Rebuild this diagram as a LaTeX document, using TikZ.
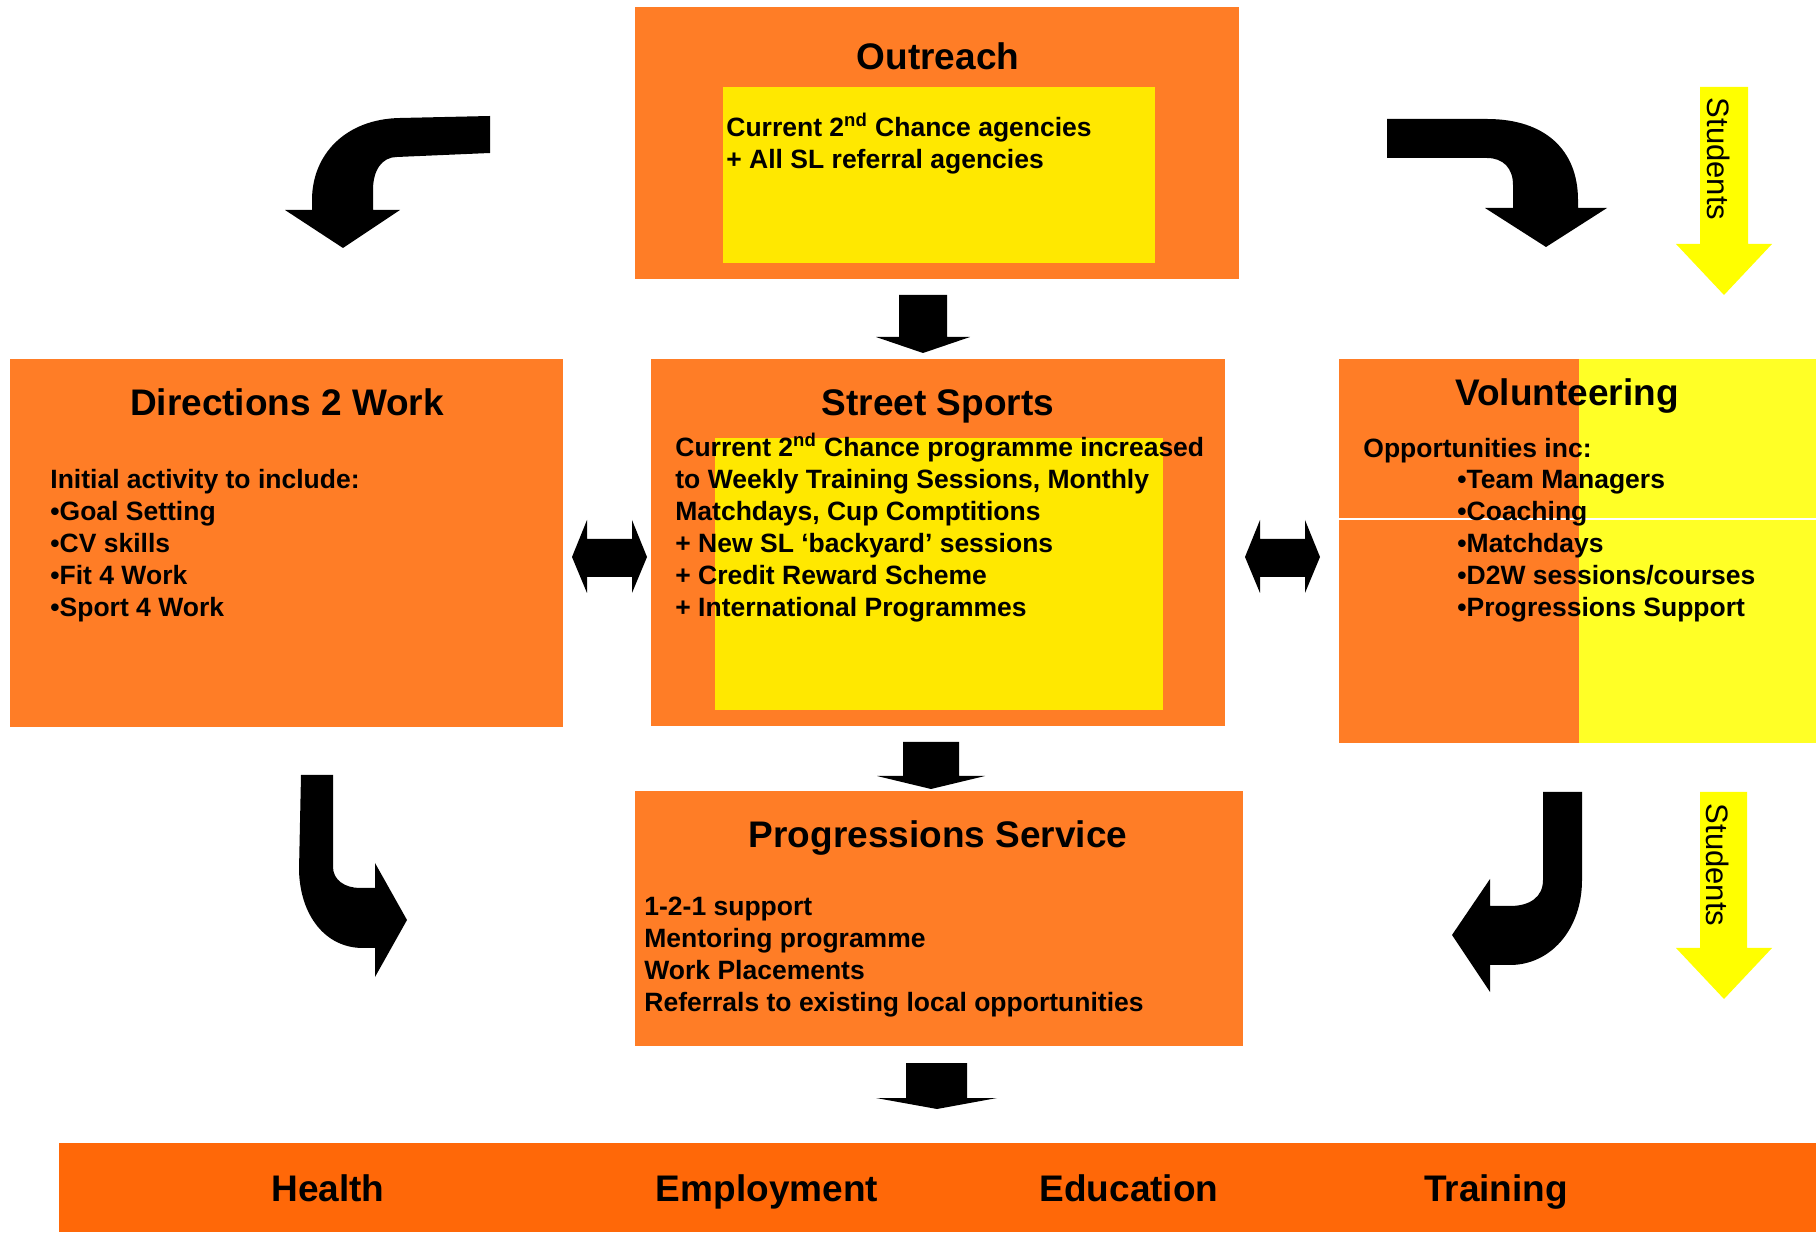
\documentclass[tikz,border=0pt]{standalone}
\usepackage{fontspec}
\setmainfont{Liberation Sans}
\usetikzlibrary{fit}
\definecolor{boxorange}{RGB}{255,125,38}
\definecolor{baryellow}{RGB}{255,232,0}
\definecolor{volyellow}{RGB}{255,255,38}
\definecolor{studyellow}{RGB}{255,255,0}
\definecolor{barorange}{RGB}{255,104,8}
\tikzset{
  box/.style={fill=boxorange, inner sep=0pt, outer sep=0pt},
  inbox/.style={fill=baryellow, inner sep=0pt, outer sep=0pt},
  titletext/.style={font=\fontsize{18.5}{22}\selectfont\bfseries, anchor=base, inner sep=0pt},
  bodytext/.style={font=\fontsize{13.25}{16}\selectfont\bfseries, align=left, anchor=base west, inner sep=0pt},
  studtext/.style={font=\fontsize{15.5}{18}\selectfont, rotate=-90, inner sep=0pt},
}
\begin{document}
\begin{tikzpicture}[x=0.5pt,y=-0.5pt]
		\useasboundingbox (0,0) rectangle (1816,1234);
		
		% boxes
		\node[box, fit={(635,7) (1239,279)}] (outreach) {};
		\node[inbox, fit={(723,87) (1155,263)}] (outreachin) {};
		\node[box, fit={(651,359) (1225,726)}] (street) {};
		\node[inbox, fit={(715,438) (1163,710)}] (streetin) {};
		\node[box, fit={(10,359) (563,727)}] (d2w) {};
		\node[box, fit={(1339,359) (1816,743)}] (vol) {};
		\node[fill=volyellow, inner sep=0pt, fit={(1579,359) (1816,743)}] (volin) {};
		\draw[white, line width=0.6pt] (vol.west |- 0,519) -- (vol.east |- 0,519);
		\node[box, fit={(635,791) (1243,1046)}] (prog) {};
		\node[fill=barorange, inner sep=0pt, fit={(59,1143) (1816,1232)}] (bar) {};
		
		% block arrows
		\fill (899,295) -- (947,295) -- (947,337) -- (970,337) -- (923,353) -- (876,337) -- (899,337) -- cycle;
		\fill (903,742) -- (959,742) -- (959,776) -- (985,776) -- (931,789) -- (877,776) -- (903,776) -- cycle;
		\fill (906,1063) -- (967,1063) -- (967,1098) -- (997,1098) -- (937,1109) -- (876,1098) -- (906,1098) -- cycle;
		
		% double arrows
		\fill (572,557) -- (587,520) -- (587,539) -- (632,539) -- (632,520) -- (647,557) -- (632,593) -- (632,577) -- (587,577) -- (587,593) -- cycle;
		\fill (1245,557) -- (1260,520) -- (1260,539) -- (1305,539) -- (1305,520) -- (1320,557) -- (1305,593) -- (1305,577) -- (1260,577) -- (1260,593) -- cycle;
		
		% curved arrows
		\fill (490,116) -- (400,118) .. controls (345,119) and (312,155) .. (312,200) -- (312,210) -- (285,210) -- (343,248) -- (400,210) -- (373,210) -- (373,190) .. controls (373,170) and (382,157) .. (397,157) -- (490,153) -- cycle;
		\fill (1387,119) -- (1487,119) .. controls (1545,119) and (1578,150) .. (1578,200) -- (1578,208) -- (1607,208) -- (1546,247) -- (1485,208) -- (1513,208) -- (1513,185) .. controls (1513,168) and (1503,158) .. (1487,158) -- (1387,158) -- cycle;
		\fill (301,775) -- (333,775) -- (333,867) .. controls (333,880) and (345,888) .. (360,888) -- (375,888) -- (375,863) -- (407,920) -- (375,977) -- (375,948) -- (363,948) .. controls (325,948) and (300,915) .. (299,870) -- cycle;
		\fill (1543,792) -- (1582,792) -- (1582,880) .. controls (1582,930) and (1550,965) .. (1510,965) -- (1490,965) -- (1490,992) -- (1452,935) -- (1490,879) -- (1490,906) -- (1510,906) .. controls (1530,906) and (1543,897) .. (1543,880) -- cycle;
		
		% students arrows
		\fill[studyellow] (1700,87) -- (1748,87) -- (1748,244) -- (1772,244) -- (1724,295) -- (1676,244) -- (1700,244) -- cycle;
		\fill[studyellow] (1700,792) -- (1747,792) -- (1747,948) -- (1772,948) -- (1724,999) -- (1676,948) -- (1700,948) -- cycle;
		\node[studtext] (stud1) at (1719,159) {Students};
		\node[studtext] (stud2) at (1718,865) {Students};
		
		% titles
		\node[titletext] (outreachtitle) at (938,70) {Outreach};
		\node[titletext] (streettitle) at (938,416) {Street Sports};
		\node[titletext] (d2wtitle) at (287,416) {Directions 2 Work};
		\node[titletext] (voltitle) at (1567,406) {Volunteering};
		\node[titletext] (progtitle) at (938,848) {Progressions Service};
		
		% texts (anchored at the last baseline)
		\node[bodytext] (outreachtext) at (726,169) {Current 2\textsuperscript{nd} Chance agencies\\+ All SL referral agencies};
		\node[bodytext] (streettext) at (675,617) {Current 2\textsuperscript{nd} Chance programme increased\\to Weekly Training Sessions, Monthly\\Matchdays, Cup Comptitions\\+ New SL ‘backyard’ sessions\\+ Credit Reward Scheme\\+ International Programmes};
		\node[bodytext] (d2wtext) at (50,617) {Initial activity to include:\\•Goal Setting\\•CV skills\\•Fit 4 Work\\•Sport 4 Work};
		\node[bodytext] (volhead) at (1363,458) {Opportunities inc:};
		\node[bodytext] (voltext) at (1457,617) {•Team Managers\\•Coaching\\•Matchdays\\•D2W sessions/courses\\•Progressions Support};
		\node[bodytext] (progtext) at (644,1011) {1-2-1 support\\Mentoring programme\\Work Placements\\Referrals to existing local opportunities};
		
		% outcomes
		\node[titletext] (health) at (328,1201) {Health};
		\node[titletext] (employment) at (767,1201) {Employment};
		\node[titletext] (education) at (1129,1201) {Education};
		\node[titletext] (training) at (1496,1201) {Training};
		
\end{tikzpicture}
\end{document}
